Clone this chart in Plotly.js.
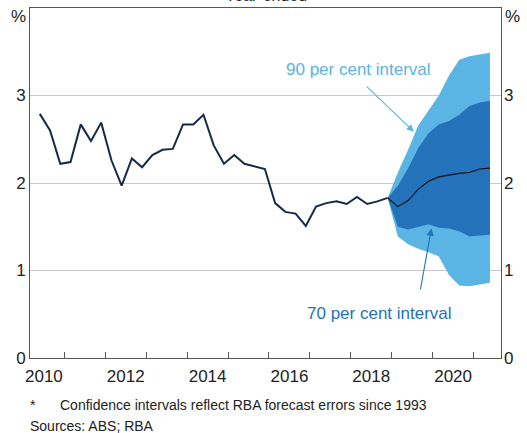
<!DOCTYPE html>
<html>
<head>
<meta charset="utf-8">
<script src="https://cdn.plot.ly/plotly-3.0.1.min.js"></script>
<style>html,body{margin:0;padding:0;background:#fff;}#chart{width:527px;height:433px;}</style>
</head>
<body>
<div id="chart"></div>
<script>
// Historical year-ended inflation, quarterly from June 2010 to December 2018
var histStartYear = 2010, histStartQuarter = 2;
var historical = [2.79, 2.60, 2.22, 2.24, 2.67, 2.48, 2.69, 2.26, 1.97, 2.28, 2.18, 2.32, 2.38, 2.39, 2.67, 2.67, 2.78, 2.43, 2.22, 2.32, 2.22, 2.19, 2.16, 1.77, 1.67, 1.65, 1.51, 1.73, 1.77, 1.79, 1.76, 1.84, 1.76, 1.79, 1.83];
// Forecast, quarterly from March 2019 to June 2021 (first value = last actual)
var forecast = [1.83, 1.73, 1.80, 1.93, 2.02, 2.07, 2.09, 2.11, 2.12, 2.16, 2.17];
var upper90 = [1.83, 2.12, 2.38, 2.66, 2.83, 3.00, 3.23, 3.41, 3.45, 3.47, 3.49];
var lower90 = [1.83, 1.39, 1.30, 1.25, 1.21, 1.16, 0.95, 0.83, 0.82, 0.84, 0.86];
var upper70 = [1.83, 1.97, 2.17, 2.40, 2.57, 2.67, 2.71, 2.78, 2.88, 2.92, 2.94];
var lower70 = [1.83, 1.50, 1.47, 1.50, 1.53, 1.49, 1.48, 1.45, 1.39, 1.40, 1.41];
var yearLabels = ['2010', '2012', '2014', '2016', '2018', '2020'];
var yTicks = [0, 1, 2, 3];

function quarterPos(startYear, startQ, i) {
  var q = startQ - 1 + i;
  var y = startYear + Math.floor(q / 4);
  var qq = q % 4 + 1;
  return y + qq * 0.25 - 0.1;
}
var xHist = historical.map(function (v, i) { return quarterPos(histStartYear, histStartQuarter, i); });
var lastIdx = historical.length - 1;
var xFc = forecast.map(function (v, i) { return quarterPos(histStartYear, histStartQuarter, lastIdx + i); });

var light = '#5ab4e4', dark = '#2472b9', navy = '#17294a';

var traces = [
  {x: xFc, y: lower90, mode: 'lines', line: {width: 0}, hoverinfo: 'skip', showlegend: false},
  {x: xFc, y: upper90, mode: 'lines', line: {width: 0}, fill: 'tonexty', fillcolor: light, hoverinfo: 'skip', showlegend: false},
  {x: xFc, y: lower70, mode: 'lines', line: {width: 0}, hoverinfo: 'skip', showlegend: false},
  {x: xFc, y: upper70, mode: 'lines', line: {width: 0}, fill: 'tonexty', fillcolor: dark, hoverinfo: 'skip', showlegend: false},
  {x: xHist, y: historical, mode: 'lines', line: {color: navy, width: 2}, showlegend: false},
  {x: xFc, y: forecast, mode: 'lines', line: {color: '#111111', width: 1.1}, showlegend: false}
];

var yearTicks = [];
for (var yr = 2011; yr <= 2021; yr++) yearTicks.push(yr);
var labelPos = yearLabels.map(function (s) { return parseInt(s, 10) + 0.5; });

var xr = [2010.16, 2021.67];
var fontFam = 'Liberation Sans, Arial, sans-serif';
var layout = {
  width: 527, height: 433,
  margin: {l: 30, r: 26, t: 8, b: 75},
  paper_bgcolor: '#fff', plot_bgcolor: '#fff',
  font: {family: fontFam, size: 17, color: '#222'},
  xaxis: {range: xr, tickvals: yearTicks, ticktext: yearTicks.map(function () { return ''; }),
    ticks: 'inside', ticklen: 6, tickcolor: '#555', tickwidth: 1,
    showline: true, linecolor: '#555', linewidth: 1, mirror: true, showgrid: false, zeroline: false},
  xaxis2: {range: xr, overlaying: 'x', side: 'bottom', tickvals: labelPos, ticktext: yearLabels,
    ticks: '', showline: false, showgrid: false, zeroline: false, anchor: 'y', ticklabelstandoff: 6},
  yaxis: {range: [0, 4], tickvals: yTicks, ticks: '', showline: true, linecolor: '#555', linewidth: 1, mirror: true,
    showgrid: true, gridcolor: '#c9c9c9', gridwidth: 1, zeroline: false, ticklabelstandoff: 0},
  yaxis2: {range: [0, 4], tickvals: yTicks, overlaying: 'y', side: 'right', ticks: '', showline: false,
    showgrid: false, zeroline: false, anchor: 'x', ticklabelstandoff: 2},
  annotations: [
    {text: 'Year-ended', xref: 'paper', yref: 'paper', x: 0.5, y: 1.006, yanchor: 'bottom', showarrow: false, font: {size: 16, color: '#222'}},
    {text: '%', xref: 'paper', yref: 'paper', x: -0.005, y: 0.975, xanchor: 'right', yanchor: 'middle', showarrow: false, font: {size: 17, color: '#222'}},
    {text: '%', xref: 'paper', yref: 'paper', x: 1.005, y: 0.975, xanchor: 'left', yanchor: 'middle', showarrow: false, font: {size: 17, color: '#222'}},
    {text: '90 per cent interval', x: 2018.186, y: 3.30, xref: 'x', yref: 'y', showarrow: false,
      font: {size: 17, color: light}, xanchor: 'center', yanchor: 'middle'},
    {text: ' ', x: 2019.54, y: 2.586, xref: 'x', yref: 'y', ax: -51, ay: -49, showarrow: true, standoff: 0,
      arrowhead: 2, arrowsize: 1.3, arrowwidth: 1.1, arrowcolor: light},
    {text: '70 per cent interval', x: 2018.70, y: 0.514, xref: 'x', yref: 'y', showarrow: false,
      font: {size: 17, color: dark}, xanchor: 'center', yanchor: 'middle'},
    {text: ' ', x: 2019.97, y: 1.48, xref: 'x', yref: 'y', ax: -13, ay: 72, showarrow: true, standoff: 0,
      arrowhead: 2, arrowsize: 1.3, arrowwidth: 1.1, arrowcolor: dark},
    {text: '*', xref: 'paper', yref: 'paper', x: -0.005, y: -0.135, xanchor: 'left', yanchor: 'middle', showarrow: false, font: {size: 14, color: '#222'}},
    {text: 'Confidence intervals reflect RBA forecast errors since 1993', xref: 'paper', yref: 'paper', x: 0.059, y: -0.135, xanchor: 'left', yanchor: 'middle', showarrow: false, font: {size: 14, color: '#222'}},
    {text: 'Sources: ABS; RBA', xref: 'paper', yref: 'paper', x: -0.005, y: -0.195, xanchor: 'left', yanchor: 'middle', showarrow: false, font: {size: 14, color: '#222'}}
  ]
};
traces.push({x: [xr[0]], y: [0], xaxis: 'x2', yaxis: 'y2', mode: 'markers', marker: {opacity: 0}, hoverinfo: 'skip', showlegend: false});
Plotly.newPlot('chart', traces, layout, {staticPlot: true});
</script>
</body>
</html>
